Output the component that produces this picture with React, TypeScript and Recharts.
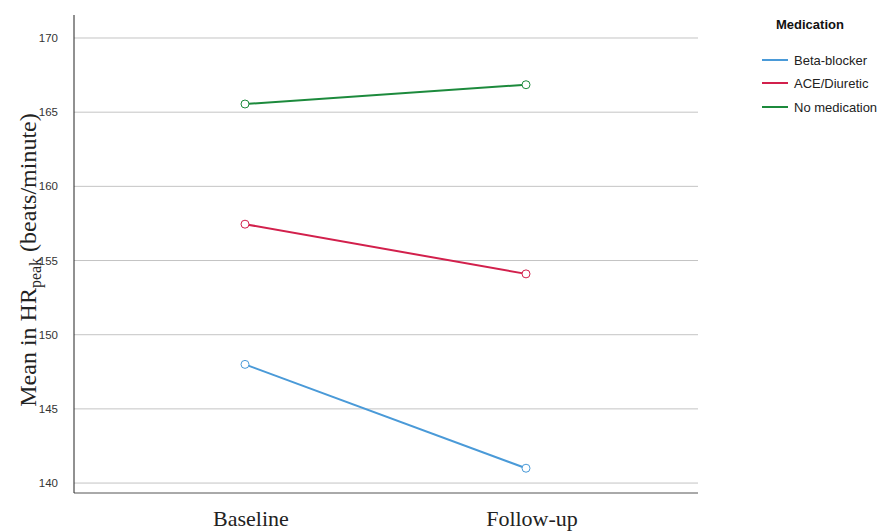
import React from 'react';
import { LineChart, Line, XAxis, YAxis, ReferenceLine } from 'recharts';

const categories = ['Baseline', 'Follow-up'];
const betaBlocker = [148.0, 141.0];
const aceDiuretic = [157.45, 154.1];
const noMedication = [165.55, 166.85];
const yTicks = [140, 145, 150, 155, 160, 165, 170];

const series = [
  { key: 'beta', name: 'Beta-blocker', color: '#4a9ad8', values: betaBlocker },
  { key: 'ace', name: 'ACE/Diuretic', color: '#d2204c', values: aceDiuretic },
  { key: 'none', name: 'No medication', color: '#1c8a3c', values: noMedication },
];

const data = categories.map((category, i) => {
  const row: Record<string, string | number> = { category };
  series.forEach((s) => {
    row[s.key] = s.values[i];
  });
  return row;
});

const serif = '"Liberation Serif", "Times New Roman", serif';
const sans = '"Liberation Sans", Arial, sans-serif';

const YLabel = () => (
  <text
    transform="translate(36,260) rotate(-90)"
    textAnchor="middle"
    fontFamily={serif}
    fontSize={24}
    fill="#222"
  >
    Mean in HR
    <tspan fontSize={16} dy={5}>peak</tspan>
    <tspan dy={-5}> (beats/minute)</tspan>
  </text>
);

const App: React.FC = () => {
  return (
    <div style={{ position: 'absolute', left: 0, top: 0, width: 879, height: 532, background: '#fff' }}>
      <LineChart
        width={879}
        height={532}
        data={data}
        margin={{ top: 15, right: 181, bottom: 0, left: 0 }}
      >
        {/* gridlines at the y ticks only */}
        {yTicks.map((v) => (
          <ReferenceLine key={v} y={v} stroke="#c4c4c4" strokeWidth={1} />
        ))}
        <XAxis
          dataKey="category"
          height={39}
          padding={{ left: 171, right: 172 }}
          tickLine={false}
          tickSize={0}
          tickMargin={17}
          stroke="#555"
          tick={{ fill: '#222', fontFamily: serif, fontSize: 22, dx: 6 }}
        />
        <YAxis
          width={74}
          domain={[139.33, 171.55]}
          ticks={yTicks}
          allowDataOverflow
          tickLine={false}
          tickSize={0}
          tickMargin={16}
          stroke="#222"
          tick={{ fill: '#333', fontFamily: sans, fontSize: 11.5 }}
          label={{ content: YLabel }}
        />
        {series.map((s) => (
          <Line
            key={s.key}
            type="linear"
            dataKey={s.key}
            name={s.name}
            stroke={s.color}
            strokeWidth={2}
            dot={{ r: 4, stroke: s.color, strokeWidth: 1, fill: '#fff' }}
            activeDot={false}
            isAnimationActive={false}
          />
        ))}
      </LineChart>
      <div style={{ position: 'absolute', left: 776, top: 17, fontFamily: sans, fontSize: 13, fontWeight: 'bold', color: '#111' }}>
        Medication
      </div>
      {series.map((s, i) => (
        <div
          key={s.key}
          style={{
            position: 'absolute',
            left: 762,
            top: [60, 83, 107][i] - 9,
            height: 18,
            display: 'flex',
            alignItems: 'center',
            fontFamily: sans,
            fontSize: 13,
            color: '#222',
            whiteSpace: 'nowrap',
          }}
        >
          <span style={{ display: 'inline-block', width: 26, height: 2, background: s.color, marginRight: 6 }} />
          {s.name}
        </div>
      ))}
    </div>
  );
};

export default App;
